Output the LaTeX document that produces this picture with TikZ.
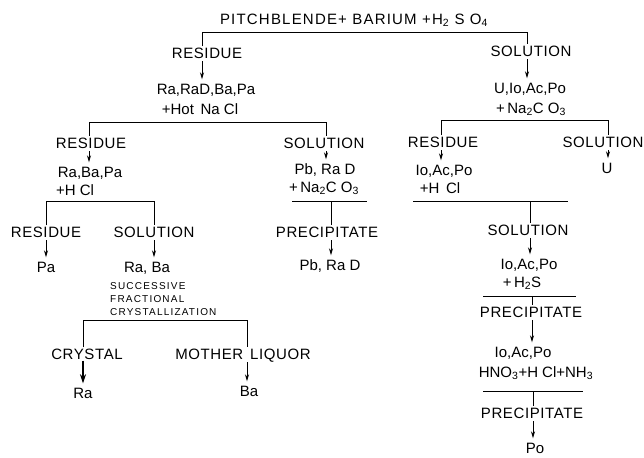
\documentclass[tikz,border=0pt]{standalone}
\usepackage{fontspec}
\setmainfont{Liberation Sans}
\newfontfamily\capsfont[LetterSpace=4]{Liberation Sans}
\newfontfamily\titlefont[LetterSpace=8]{Liberation Sans}
\newfontfamily\notefont[LetterSpace=12]{Liberation Sans}
\usetikzlibrary{arrows.meta}
\tikzset{
	lbl/.style={inner sep=1pt, text height=11pt, text depth=0pt, font=\fontsize{15}{18}\selectfont},
	capsbox/.style={lbl, font=\fontsize{15}{18}\capsfont},
	arr/.style={-{Stealth[length=7pt,width=4pt]}, line width=0.9pt, shorten <=1.5pt, shorten >=3pt},
	rule/.style={line width=0.9pt}
}

\begin{document}
\begin{tikzpicture}[x=1pt, y=-1pt]
	\useasboundingbox (0,0) rectangle (644,457);
	%starting material
	\node[capsbox, font=\fontsize{15}{18}\titlefont] (feed) at (354,19) {PITCHBLENDE+ BARIUM +H\textsubscript{2} S O\textsubscript{4}};

	%first split
	\coordinate (s1l) at (202,32);
	\coordinate (s1r) at (527,32);
	\node[capsbox] (res1) at (207,53) {RESIDUE};
	\node[capsbox] (sol1) at (531,51) {SOLUTION};
	\draw[rule] (res1.north -| s1l) -- (s1l) -- (s1r) -- (sol1.north -| s1r);
	\node[lbl] (mix1a) at (206,89) {Ra,RaD,Ba,Pa};
	\node[lbl] (mix1b) at (200,109) {+Hot\, Na Cl};
	\draw[arr] (res1.south -| s1l) -- (mix1a.north -| s1l);
	\node[lbl] (mix2a) at (530,88) {U,Io,Ac,Po};
	\node[lbl] (mix2b) at (531,108) {+\,Na\textsubscript{2}C O\textsubscript{3}};
	\draw[arr] (sol1.south -| s1r) -- (mix2a.north -| s1r);

	%residue with hot NaCl
	\coordinate (s2l) at (89,122);
	\coordinate (s2r) at (326,122);
	\node[capsbox] (res2) at (91,143) {RESIDUE};
	\node[capsbox] (sol2) at (324,143) {SOLUTION};
	\draw[rule] (res2.north -| s2l) -- (s2l) -- (s2r) -- (sol2.north -| s2r);
	\node[lbl] (mix3a) at (90,172) {Ra,Ba,Pa};
	\node[lbl] (mix3b) at (75,190) {+H Cl};
	\draw[arr] (res2.south -| s2l) -- (mix3a.north -| s2l);
	\node[lbl] (mix4a) at (325,169) {Pb, Ra D};
	\node[lbl] (mix4b) at (324,187) {+\,Na\textsubscript{2}C O\textsubscript{3}};
	\draw[arr] (sol2.south -| s2r) -- (mix4a.north -| s2r);

	%lead and radium D
	\coordinate (l1a) at (292,201);
	\coordinate (l1b) at (367,201);
	\coordinate (l1m) at (331,201);
	\node[capsbox] (ppt1) at (327,232) {PRECIPITATE};
	\node[lbl] (pbrad) at (330,265) {Pb, Ra D};
	\draw[rule] (l1a) -- (l1b);
	\draw[rule] (l1m) -- (ppt1.north -| l1m);
	\draw[arr] (ppt1.south -| l1m) -- (pbrad.north -| l1m);

	%residue with HCl
	\coordinate (s4l) at (46,201);
	\coordinate (s4r) at (154,201);
	\node[capsbox] (res4) at (46,232) {RESIDUE};
	\node[capsbox] (sol5) at (154,232) {SOLUTION};
	\draw[rule] (res4.north -| s4l) -- (s4l) -- (s4r) -- (sol5.north -| s4r);
	\node[lbl] (pa) at (46,267) {Pa};
	\node[lbl] (raba) at (147,267) {Ra, Ba};
	\draw[arr] (res4.south -| s4l) -- (pa.north -| s4l);
	\draw[arr] (sol5.south -| s4r) -- (raba.north -| s4r);
	\node[align=left, anchor=west, inner sep=0pt, font=\fontsize{10}{13}\notefont] (note) at (110,299) {SUCCESSIVE\\FRACTIONAL\\CRYSTALLIZATION};

	%fractional crystallization
	\coordinate (s5l) at (83,320);
	\coordinate (s5r) at (247,320);
	\node[capsbox] (cryst) at (87,354) {CRYSTAL};
	\node[capsbox] (mliq) at (243,354) {MOTHER\hspace{7pt}LIQUOR};
	\draw[rule] (cryst.north -| s5l) -- (s5l) -- (s5r) -- (mliq.north -| s5r);
	\node[lbl] (ra) at (83,393) {Ra};
	\node[lbl] (ba) at (249,391) {Ba};
	\draw[arr, line width=1.4pt, -{Stealth[length=9pt,width=6pt]}, shorten <=0pt] (cryst.south -| s5l) -- (ra.north -| s5l);
	\draw[arr] (mliq.south -| s5r) -- (ba.north -| s5r);

	%solution with Na2CO3
	\coordinate (s3l) at (441,120);
	\coordinate (s3r) at (608,120);
	\node[capsbox] (res3) at (443,142) {RESIDUE};
	\node[capsbox] (sol3) at (603,142) {SOLUTION};
	\draw[rule] (res3.north -| s3l) -- (s3l) -- (s3r) -- (sol3.north -| s3r);
	\node[lbl] (mix5a) at (444,170) {Io,Ac,Po};
	\node[lbl] (mix5b) at (440,188) {+H\, Cl};
	\draw[arr] (res3.south -| s3l) -- (mix5a.north -| s3l);
	\node[lbl] (uu) at (607,168) {U};
	\draw[arr] (sol3.south -| s3r) -- (uu.north -| s3r);

	%ionium, actinium, polonium
	\coordinate (l2a) at (413,201);
	\coordinate (l2b) at (568,201);
	\coordinate (l2m) at (530,201);
	\node[capsbox] (sol4) at (528,230) {SOLUTION};
	\draw[rule] (l2a) -- (l2b);
	\draw[rule] (l2m) -- (sol4.north -| l2m);
	\node[lbl] (mix6a) at (529,264) {Io,Ac,Po};
	\node[lbl] (mix6b) at (522,282) {+\,H\textsubscript{2}S};
	\draw[arr] (sol4.south -| l2m) -- (mix6a.north -| l2m);
	\coordinate (l3a) at (483,296);
	\coordinate (l3b) at (576,296);
	\coordinate (l3m) at (532,296);
	\node[capsbox] (ppt2) at (531,312) {PRECIPITATE};
	\draw[rule] (l3a) -- (l3b);
	\draw[rule] (l3m) -- (ppt2.north -| l3m);
	\node[lbl] (mix7a) at (523,352) {Io,Ac,Po};
	\node[lbl] (mix7b) at (536,372) {HNO\textsubscript{3}+H Cl+NH\textsubscript{3}};
	\draw[arr] (ppt2.south -| l3m) -- (mix7a.north -| l3m);
	\coordinate (l4a) at (483,391);
	\coordinate (l4b) at (583,391);
	\coordinate (l4m) at (533,391);
	\node[capsbox] (ppt3) at (532,413) {PRECIPITATE};
	\draw[rule] (l4a) -- (l4b);
	\draw[rule] (l4m) -- (ppt3.north -| l4m);
	\node[lbl] (po) at (535,448) {Po};
	\draw[arr] (ppt3.south -| l4m) -- (po.north -| l4m);
\end{tikzpicture}
\end{document}
